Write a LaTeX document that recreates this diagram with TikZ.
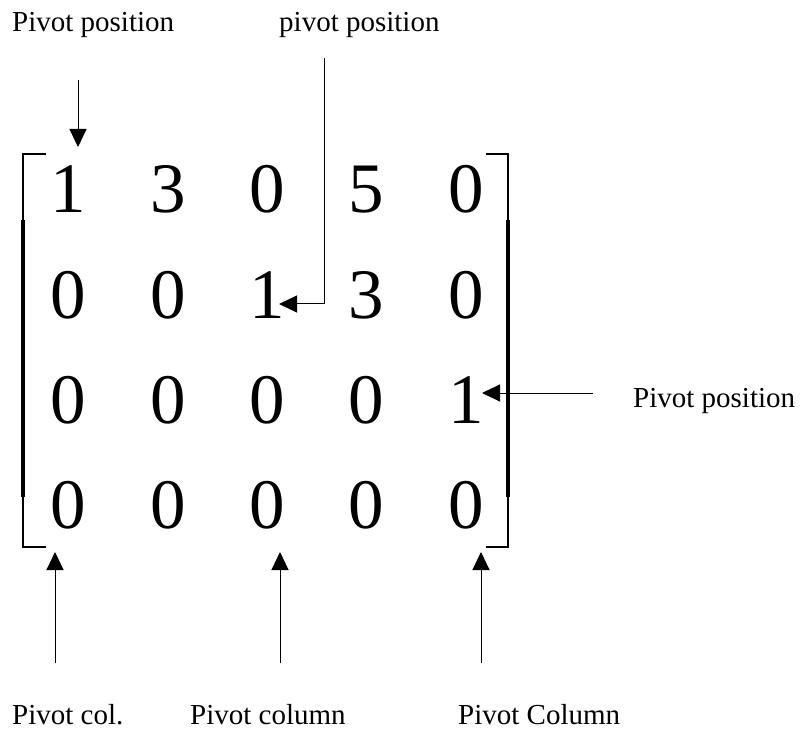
\documentclass[tikz,border=0pt]{standalone}
\usepackage{fontspec}
\setmainfont{Liberation Serif}
\usetikzlibrary{arrows.meta}
\tikzset{
  entry/.style={inner sep=0pt, anchor=base, font=\fontsize{71}{71}\selectfont},
  lbl/.style={inner sep=0pt, anchor=base west, font=\fontsize{29}{29}\selectfont},
  ptr/.style={line width=1pt, -{Triangle[length=18pt,width=17pt]}},
  brthin/.style={line width=2.2pt, line join=miter},
  brthick/.style={line width=3.6pt},
}
\begin{document}
\begin{tikzpicture}[x=1pt,y=-1pt]
\useasboundingbox (0,0) rectangle (801,730);

% matrix entries (row, column)
\node[entry] (m11) at (68,213) {1};
\node[entry] (m12) at (168,213) {3};
\node[entry] (m13) at (267,213) {0};
\node[entry] (m14) at (366,213) {5};
\node[entry] (m15) at (466,213) {0};
\node[entry] (m21) at (68,318) {0};
\node[entry] (m22) at (168,318) {0};
\node[entry] (m23) at (267,318) {1};
\node[entry] (m24) at (366,318) {3};
\node[entry] (m25) at (466,318) {0};
\node[entry] (m31) at (68,423) {0};
\node[entry] (m32) at (168,423) {0};
\node[entry] (m33) at (267,423) {0};
\node[entry] (m34) at (366,423) {0};
\node[entry] (m35) at (466,423) {1};
\node[entry] (m41) at (68,528) {0};
\node[entry] (m42) at (168,528) {0};
\node[entry] (m43) at (267,528) {0};
\node[entry] (m44) at (366,528) {0};
\node[entry] (m45) at (466,528) {0};

% left bracket
\draw[brthin] (46,154) -- (23,154) -- (23,221);
\draw[brthick] (23,220) -- (23,497);
\draw[brthin] (23,496) -- (23,547) -- (46,547);
% right bracket
\draw[brthin] (486,154) -- (508,154) -- (508,221);
\draw[brthick] (508,220) -- (508,497);
\draw[brthin] (508,496) -- (508,547) -- (486,547);

% labels
\node[lbl] (topL) at (12,32) {Pivot position};
\node[lbl] (topM) at (279,32) {pivot position};
\node[lbl] (rightR) at (633,407) {Pivot position};
\node[lbl] (botL) at (12,724) {Pivot col.};
\node[lbl] (botM) at (190,724) {Pivot column};
\node[lbl] (botR) at (458,724) {Pivot Column};

% arrow ends
\coordinate (aTop) at (78,80);
\coordinate (aTopTip) at (78,147);
\coordinate (aBend) at (324,58);
\coordinate (aBendTip) at (279,304);
\coordinate (aRight) at (593,393);
\coordinate (aRightTip) at (482,393);
\coordinate (aB1) at (55,663);
\coordinate (aB1Tip) at (55,552);
\coordinate (aB2) at (280,663);
\coordinate (aB2Tip) at (280,552);
\coordinate (aB3) at (481,663);
\coordinate (aB3Tip) at (481,552);

% pointers
\draw[ptr] (aTop) -- (aTopTip);
\draw[ptr] (aBend) |- (aBendTip);
\draw[ptr] (aRight) -- (aRightTip);
\draw[ptr] (aB1) -- (aB1Tip);
\draw[ptr] (aB2) -- (aB2Tip);
\draw[ptr] (aB3) -- (aB3Tip);
\end{tikzpicture}
\end{document}
